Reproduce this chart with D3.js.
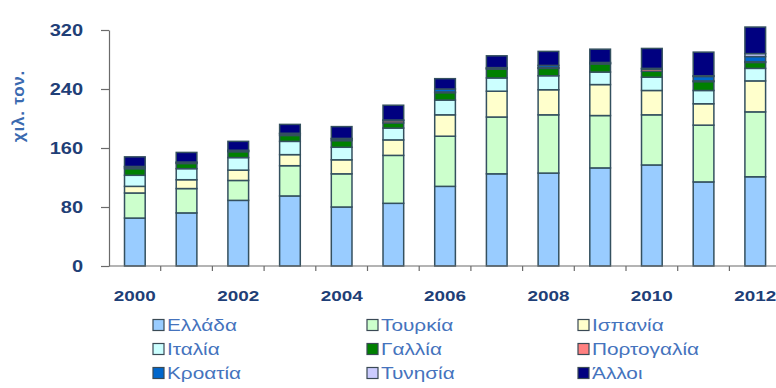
<!DOCTYPE html>
<html>
<head>
<meta charset="utf-8">
<script src="https://cdn.jsdelivr.net/npm/d3@7"></script>
<style>
  html, body { margin: 0; padding: 0; background: #ffffff; }
  svg { display: block; }
  text { font-family: Arial, "Liberation Sans", sans-serif; }
</style>
</head>
<body>
<svg id="chart" width="776" height="388"></svg>
<script>
// Imports by country of origin, thousand tonnes, 2000-2012
const years      = [2000, 2001, 2002, 2003, 2004, 2005, 2006, 2007, 2008, 2009, 2010, 2011, 2012];
const ellada     = [65, 72, 89, 95, 80, 85, 108, 125, 126, 133, 137, 114, 121];
const tourkia    = [34, 33, 27, 41, 45, 65, 68, 77, 79, 71, 68, 77, 88];
const ispania    = [9, 12, 14, 15, 19, 21, 29, 35, 34, 42, 33, 29, 42];
const italia     = [15, 15, 17, 18, 17, 16, 20, 18, 19, 17, 18, 18, 17];
const gallia     = [9, 7, 8, 8, 9, 7, 10, 12, 10, 11, 8, 12, 8];
const portogalia = [2, 1, 1, 2, 2, 3, 1, 1, 1, 1, 3, 1, 1];
const kroatia    = [1, 1, 1, 1, 1, 1, 4, 1, 3, 1, 1, 6, 7];
const tynisia    = [0, 0, 0, 0, 0, 0, 0, 0, 0, 0, 0, 1, 4];
const alloi      = [13, 13, 12, 12, 16, 20, 14, 16, 19, 18, 27, 32, 36];

const seriesNames  = ["Ελλάδα", "Τουρκία", "Ισπανία", "Ιταλία", "Γαλλία", "Πορτογαλία", "Κροατία", "Τυνησία", "Άλλοι"];
const seriesValues = [ellada, tourkia, ispania, italia, gallia, portogalia, kroatia, tynisia, alloi];
const seriesColors = ["#99ccff", "#ccffcc", "#ffffcc", "#ccffff", "#008000", "#ff8080", "#0066cc", "#ccccff", "#000080"];

const yTicks      = [0, 80, 160, 240, 320];
const xTickLabels = [2000, 2002, 2004, 2006, 2008, 2010, 2012];
const yTitle      = "χιλ. τον.";

// ---- layout ----
const svg = d3.select("#chart");
const axisX0 = 109, axisY0 = 266, axisTop = 30;
const step = 51.7;
const stretchY = 1.25;         // wide lettering on the value labels
const stretchX = 1.35;         // wide lettering on the year labels
const stretchL = 1.3;          // wide lettering in the legend
const tickColor = "#1f3f77";
const legendColor = "#4573bd";
const barStroke = "#34505f";

const x = d3.scaleBand()
  .domain(years)
  .range([axisX0, axisX0 + step * years.length])
  .paddingInner(0.6)
  .paddingOuter(0.3);

const y = d3.scaleLinear().domain([0, 320]).range([axisY0, axisTop]);

// ---- stacked data ----
const table = years.map((yr, i) => {
  const row = { year: yr };
  seriesNames.forEach((n, k) => { row[n] = seriesValues[k][i]; });
  return row;
});
const stacked = d3.stack().keys(seriesNames)(table);

// ---- bars ----
const layers = svg.append("g").attr("class", "bars")
  .selectAll("g").data(stacked).join("g")
  .attr("fill", (d, i) => seriesColors[i]);

layers.selectAll("rect")
  .data(d => d.filter(s => s[1] - s[0] > 0))
  .join("rect")
  .attr("x", d => x(d.data.year))
  .attr("width", x.bandwidth())
  .attr("y", d => y(d[1]))
  .attr("height", d => y(d[0]) - y(d[1]))
  .attr("stroke", barStroke)
  .attr("stroke-width", 1.5);

// ---- y axis ----
const yAxis = svg.append("g")
  .attr("transform", `translate(${axisX0},0)`)
  .call(d3.axisLeft(y).tickValues(yTicks).tickSize(8).tickSizeOuter(0).tickPadding(18));
yAxis.select(".domain").attr("stroke", "#6b6b6b").attr("stroke-width", 1.2);
yAxis.selectAll(".tick line").attr("stroke", "#6b6b6b").attr("stroke-width", 1.2);
yAxis.selectAll(".tick text")
  .attr("fill", tickColor)
  .attr("font-size", 16)
  .attr("font-weight", "bold")
  .attr("x", -26 / stretchY)
  .attr("transform", `scale(${stretchY},1)`);

// ---- x axis: line, boundary ticks and year labels ----
const xAxisLine = svg.append("g").attr("class", "x-axis");
xAxisLine.append("line")
  .attr("x1", axisX0).attr("x2", axisX0 + step * years.length)
  .attr("y1", axisY0).attr("y2", axisY0)
  .attr("stroke", "#6b6b6b").attr("stroke-width", 1.2);

const boundary = d3.scaleLinear().domain([0, years.length]).range([axisX0, axisX0 + step * years.length]);
xAxisLine.selectAll("line.bt")
  .data(d3.range(1, years.length + 1))
  .join("line")
  .attr("class", "bt")
  .attr("x1", d => boundary(d)).attr("x2", d => boundary(d))
  .attr("y1", axisY0).attr("y2", axisY0 + 5)
  .attr("stroke", "#6b6b6b").attr("stroke-width", 1.2);

const xAxis = svg.append("g")
  .attr("transform", `translate(0,${axisY0})`)
  .call(d3.axisBottom(x).tickValues(xTickLabels).tickSize(0).tickPadding(25).tickFormat(d3.format("d")));
xAxis.select(".domain").remove();
xAxis.selectAll(".tick text")
  .attr("fill", tickColor)
  .attr("font-size", 14)
  .attr("font-weight", "bold")
  .attr("x", 0)
  .attr("transform", `scale(${stretchX},1)`);

// ---- y title ----
svg.append("text")
  .attr("transform", `translate(24,106) rotate(-90)`)
  .attr("text-anchor", "middle")
  .attr("fill", "#3a6ab0")
  .attr("font-size", 17)
  .attr("font-weight", "bold")
  .attr("letter-spacing", 0.8)
  .text(yTitle);

// ---- legend ----
const legendCols = [153, 367, 578];
const legendRows = [325, 349, 373];
const legend = svg.append("g").attr("class", "legend")
  .selectAll("g").data(seriesNames).join("g")
  .attr("transform", (d, i) => `translate(${legendCols[i % 3]},${legendRows[Math.floor(i / 3)]})`);

legend.append("rect")
  .attr("x", 0).attr("y", -5.5)
  .attr("width", 11).attr("height", 11)
  .attr("fill", (d, i) => seriesColors[i])
  .attr("stroke", "#3a4a55").attr("stroke-width", 1.2);

legend.append("text")
  .attr("transform", `translate(14,0) scale(${stretchL},1)`)
  .attr("dy", "0.36em")
  .attr("fill", legendColor)
  .attr("font-size", 16)
  .text(d => d);
</script>
</body>
</html>
